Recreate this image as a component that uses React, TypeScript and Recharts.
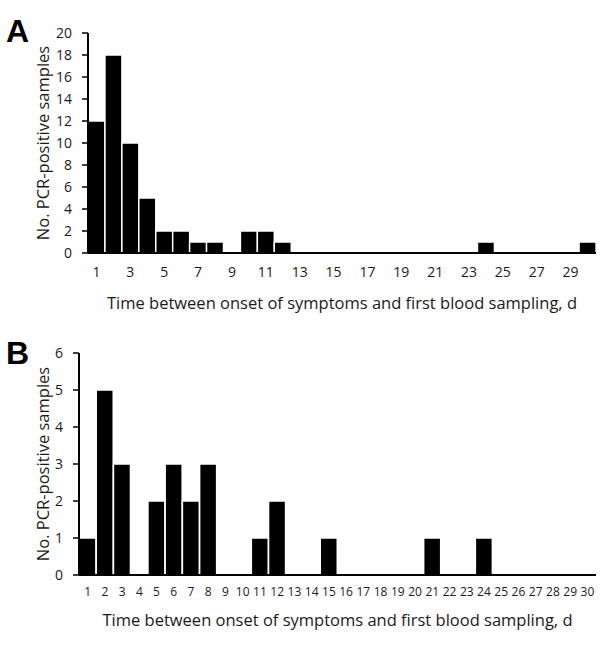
import { BarChart, Bar, XAxis, YAxis } from 'recharts'

const days = Array.from({ length: 30 }, (_, i) => String(i + 1))

// panel A: all samples
const countsA = [12, 18, 10, 5, 2, 2, 1, 1, 0, 2, 2, 1, 0, 0, 0, 0, 0, 0, 0, 0, 0, 0, 0, 1, 0, 0, 0, 0, 0, 1]
const ticksA = [0, 2, 4, 6, 8, 10, 12, 14, 16, 18, 20]

// panel B
const countsB = [1, 5, 3, 0, 2, 3, 2, 3, 0, 0, 1, 2, 0, 0, 1, 0, 0, 0, 0, 0, 1, 0, 0, 1, 0, 0, 0, 0, 0, 0]
const ticksB = [0, 1, 2, 3, 4, 5, 6]

const xTitle = 'Time between onset of symptoms and first blood sampling, d'
const yTitle = 'No. PCR-positive samples'

const FONT = '"Open Sans", sans-serif'
const TEXT = '#1a1a1a'

const dataA = days.map((d, i) => ({ day: d, n: countsA[i] }))
const dataB = days.map((d, i) => ({ day: d, n: countsB[i] }))

function Panel({ data, ticks, yWidth, height, plotH, xTickSize, xTickDy, xTitleOffset, interval }: any) {
  return (
    <BarChart
      width={600}
      height={height}
      data={data}
      margin={{ top: 33, right: 4, left: 0, bottom: 0 }}
      barCategoryGap={0}
    >
      <XAxis
        dataKey="day"
        interval={interval}
        tickLine={false}
        axisLine={{ stroke: '#000', strokeWidth: 2 }}
        height={height - 33 - plotH}
        tick={{ fill: TEXT, fontSize: xTickSize, fontFamily: FONT, dy: xTickDy }}
        label={{
          value: xTitle,
          position: 'insideBottom',
          offset: xTitleOffset,
          style: { fill: TEXT, fontSize: 16.5, fontFamily: FONT },
        }}
      />
      <YAxis
        width={yWidth}
        domain={[0, ticks[ticks.length - 1]]}
        ticks={ticks}
        interval={0}
        tickSize={6}
        tickMargin={10}
        tickLine={{ stroke: '#000', strokeWidth: 1.5 }}
        axisLine={{ stroke: '#000', strokeWidth: 2 }}
        tick={{ fill: TEXT, fontSize: 14, fontFamily: FONT }}
        label={{
          value: yTitle,
          angle: -90,
          position: 'insideLeft',
          offset: 43,
          style: { fill: TEXT, fontSize: 16.5, fontFamily: FONT, textAnchor: 'middle' },
        }}
      />
      <Bar dataKey="n" fill="#000" stroke="#fff" strokeWidth={1.5} isAnimationActive={false} />
    </BarChart>
  )
}

export default function App() {
  return (
    <div style={{ position: 'absolute', left: 0, top: 0, width: 600, height: 647, background: '#fff' }}>
      <div style={{ position: 'absolute', left: 0, top: 0 }}>
        <Panel data={dataA} ticks={ticksA} yWidth={88} height={320} plotH={220} xTickSize={14} xTickDy={6} xTitleOffset={11} interval={1} />
      </div>
      <div style={{ position: 'absolute', left: 0, top: 320 }}>
        <Panel data={dataB} ticks={ticksB} yWidth={79} height={327} plotH={222} xTickSize={12} xTickDy={4} xTitleOffset={21} interval={0} />
      </div>
      <div style={{ position: 'absolute', left: 6, top: 11, fontFamily: '"Liberation Sans", Arial, sans-serif', fontWeight: 700, fontSize: 32, lineHeight: '40px' }}>A</div>
      <div style={{ position: 'absolute', left: 6, top: 333, fontFamily: '"Liberation Sans", Arial, sans-serif', fontWeight: 700, fontSize: 32, lineHeight: '40px' }}>B</div>
    </div>
  )
}
